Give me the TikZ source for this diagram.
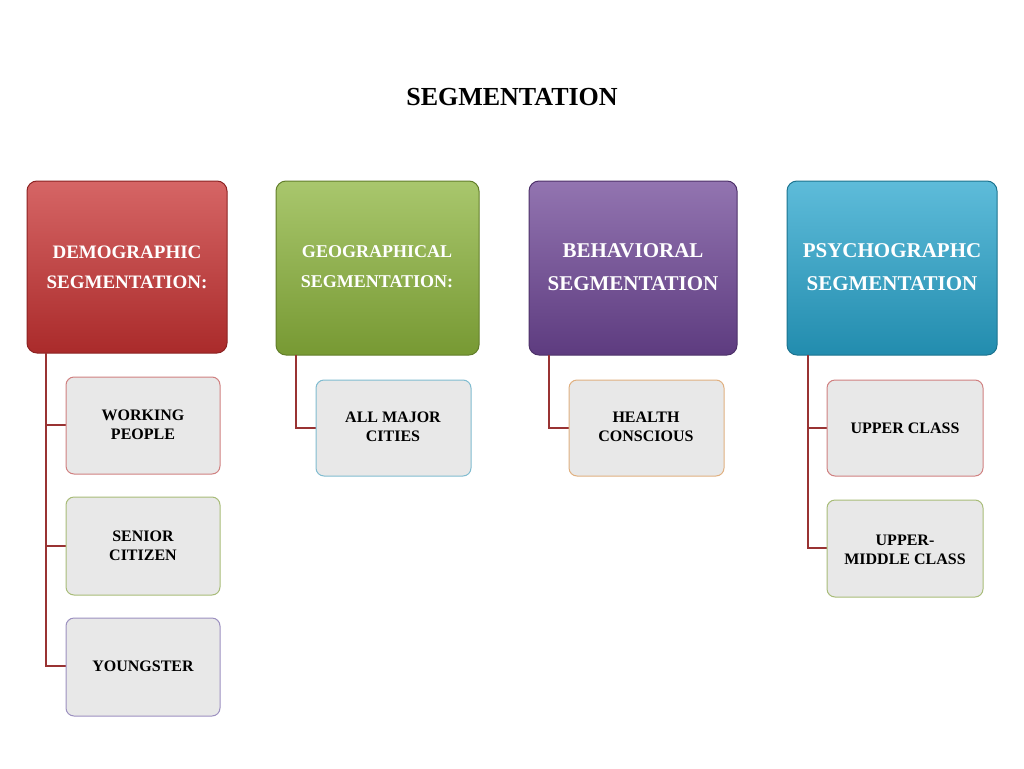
\documentclass[tikz,border=0pt]{standalone}
\usepackage{fontspec}
\setmainfont{Liberation Serif}
\begin{document}
\begin{tikzpicture}[x=1pt,y=-1pt,
 head/.style={rounded corners=10pt,draw=#1!70!black,line width=1pt,top color=#1!75!white,bottom color=#1!85!black,text=white,font=\bfseries\fontsize{20}{26}\selectfont,align=center},
 child/.style={rounded corners=8pt,draw=#1,line width=1pt,fill=black!9,font=\bfseries\fontsize{16}{19}\selectfont,align=center},
 conn/.style={draw=red!50!black!80,line width=2.5pt}]
\useasboundingbox (0,0) rectangle (1024,768);
\definecolor{cred}{HTML}{C83232}\definecolor{cgreen}{HTML}{8CB43C}
\definecolor{cpurple}{HTML}{6E4696}\definecolor{cblue}{HTML}{28A5CD}
\definecolor{bred}{HTML}{D08080}\definecolor{bgreen}{HTML}{A8BC78}
\definecolor{bpurple}{HTML}{9C90C0}\definecolor{bblue}{HTML}{80BCD0}
\definecolor{borange}{HTML}{E0B080}\definecolor{lc}{HTML}{B04848}
\node (t) at (512,97) {\bfseries\fontsize{26}{30}\selectfont SEGMENTATION};
\path[head=cred] (27,181) rectangle (227,353); \node (h1) at (127,267) [text=white,font=\bfseries\fontsize{19}{30}\selectfont,align=center] {DEMOGRAPHIC\\SEGMENTATION:};
\path[head=cgreen] (276,181) rectangle (479,355); \node (h2) at (377,267) [text=white,font=\bfseries\fontsize{18}{30}\selectfont,align=center] {GEOGRAPHICAL\\SEGMENTATION:};
\path[head=cpurple] (529,181) rectangle (737,355); \node (h3) at (633,267) [text=white,font=\bfseries\fontsize{21}{33}\selectfont,align=center] {BEHAVIORAL\\SEGMENTATION};
\path[head=cblue] (787,181) rectangle (997,355); \node (h4) at (892,267) [text=white,font=\bfseries\fontsize{21}{33}\selectfont,align=center] {PSYCHOGRAPHC\\SEGMENTATION};
\coordinate (a1) at (46,353); \coordinate (a2) at (296,355); \coordinate (a3) at (549,355); \coordinate (a4) at (808,355);
\draw[conn] (a1) |- (66,425) (a1) |- (66,546) (a1) |- (66,666);
\draw[conn] (a2) |- (316,428);
\draw[conn] (a3) |- (569,428);
\draw[conn] (a4) |- (827,428) (a4) |- (827,548);
\path[child=bred] (66,377) rectangle (220,474); \node (c1) at (143,425) [font=\bfseries\fontsize{16}{19}\selectfont,align=center] {WORKING\\PEOPLE};
\path[child=bgreen] (66,497) rectangle (220,595); \node (c2) at (143,546) [font=\bfseries\fontsize{16}{19}\selectfont,align=center] {SENIOR\\CITIZEN};
\path[child=bpurple] (66,618) rectangle (220,716); \node (c3) at (143,666) [font=\bfseries\fontsize{16}{19}\selectfont] {YOUNGSTER};
\path[child=bblue] (316,380) rectangle (471,476); \node (c4) at (393,427) [font=\bfseries\fontsize{16}{19}\selectfont,align=center] {ALL MAJOR\\CITIES};
\path[child=borange] (569,380) rectangle (724,476); \node (c5) at (646,427) [font=\bfseries\fontsize{16}{19}\selectfont,align=center] {HEALTH\\CONSCIOUS};
\path[child=bred] (827,380) rectangle (983,476); \node (c6) at (905,428) [font=\bfseries\fontsize{16}{19}\selectfont] {UPPER CLASS};
\path[child=bgreen] (827,500) rectangle (983,597); \node (c7) at (905,550) [font=\bfseries\fontsize{16}{19}\selectfont,align=center] {UPPER-\\MIDDLE CLASS};
\end{tikzpicture}
\end{document}
